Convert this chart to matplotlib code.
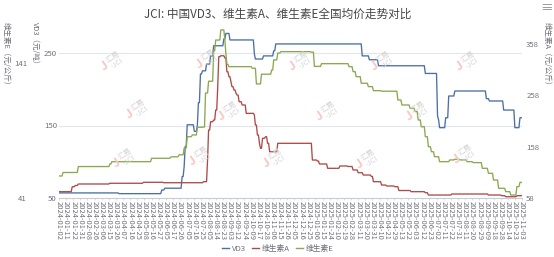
import numpy as np
import matplotlib
matplotlib.use("Agg")
import matplotlib.pyplot as plt
from matplotlib.lines import Line2D

plt.rcParams['font.family'] = ['Noto Sans CJK SC', 'DejaVu Sans']

# ---------------- data ----------------
date_labels = [
    "2024-01-02", "2024-01-11", "2024-01-22", "2024-01-31", "2024-02-08", "2024-02-26",
    "2024-03-06", "2024-03-15", "2024-03-26", "2024-04-07", "2024-04-16", "2024-04-25",
    "2024-05-08", "2024-05-16", "2024-05-27", "2024-06-05", "2024-06-17", "2024-06-26",
    "2024-07-05", "2024-07-16", "2024-07-25", "2024-08-05", "2024-08-14", "2024-08-23",
    "2024-09-03", "2024-09-12", "2024-09-24", "2024-10-09", "2024-10-17", "2024-10-28",
    "2024-11-06", "2024-11-15", "2024-11-26", "2024-12-05", "2024-12-16", "2024-12-25",
    "2025-01-06", "2025-01-15", "2025-01-24", "2025-02-10", "2025-02-19", "2025-02-28",
    "2025-03-11", "2025-03-20", "2025-03-31", "2025-04-10", "2025-04-21", "2025-04-29",
    "2025-05-13", "2025-05-22", "2025-06-03", "2025-06-12", "2025-06-23", "2025-07-02",
    "2025-07-11", "2025-07-22", "2025-07-31", "2025-08-11", "2025-08-20", "2025-08-29",
    "2025-09-09", "2025-09-18", "2025-09-28", "2025-10-14", "2025-10-23", "2025-11-03",
]
label_step = 7                      # trading days between shown labels
n_days = (len(date_labels) - 1) * label_step + 1

# price change points: trading-day index -> new price
vd3_days = [0, 59, 101, 104, 121, 123, 124, 126, 133, 136, 137, 139, 141, 145, 149, 152,
            162, 164, 168, 192, 193, 201, 211, 213, 298, 305, 314, 360, 372, 373, 374,
            380, 383, 389, 420, 423, 437, 448, 453]
vd3_vals = [57, 56, 61, 63.5, 79.6, 93.5, 121, 151, 142, 151, 181.5, 221, 225.4, 234.7, 246, 260,
            269.5, 277, 268, 248.6, 241.7, 246, 253, 262.5, 246, 240.7, 232.4, 221.8, 163, 158, 147,
            160.7, 190.7, 197.6, 187, 183.8, 171.3, 147, 160.7]

va_days = [0, 13, 16, 19, 50, 83, 103, 142, 146, 147, 149, 152, 154, 156, 157, 159, 163, 165,
           167, 169, 170, 172, 174, 175, 177, 180, 184, 192, 193, 195, 197, 198, 200, 203, 205,
           207, 215, 249, 254, 256, 264, 276, 284, 289, 294, 299, 307, 309, 317, 322, 330, 334,
           346, 360, 363, 386, 422, 435, 439, 450]
va_vals = [70.3, 80, 82.4, 85.3, 86.7, 88.6, 87.8, 89.8, 132, 190.5, 206.7, 210, 229.5, 275, 333.4,
           335.3, 331, 304, 294.4, 284.7, 275, 268.5, 262, 258.7, 245.7, 239.3, 223, 219.8, 200.3,
           180.8, 164.6, 154.9, 174.4, 177.5, 164.6, 148.2, 164.6, 132, 130, 124.3, 115.9, 120.4,
           119.4, 112.6, 107.3, 102.8, 100, 89.8, 83.3, 81.4, 80, 72.6, 70.3, 68.3, 63.8, 65.8,
           63.8, 62.5, 60.5, 62.5]

ve_days = [0, 4, 19, 50, 52, 91, 110, 118, 123, 126, 131, 136, 142, 144, 147, 152, 154, 159,
           163, 164, 165, 167, 190, 194, 199, 209, 211, 215, 218, 248, 251, 258, 285, 289, 292,
           297, 304, 309, 317, 333, 337, 345, 350, 353, 356, 360, 363, 366, 369, 374, 384, 389,
           394, 401, 407, 416, 422, 427, 432, 439, 444, 450, 453]
ve_vals = [57.3, 59.9, 64.3, 66.2, 67.9, 70.4, 71.5, 73, 78, 86.4, 87.7, 93.4, 93.6, 118.8, 127.5,
           150, 158, 165.5, 158, 148, 140, 138.3, 137.1, 125.5, 132.7, 135.8, 143.3, 148.4, 149.4,
           149, 138.5, 140.5, 138.3, 134.6, 130.9, 126, 123.5, 120.5, 120.1, 113.6, 109.9, 107.5,
           105, 98.8, 93.8, 86.4, 79, 75.3, 71.6, 67.9, 69.2, 69.7, 69.2, 67.9, 67.2, 63, 59.3,
           54.3, 48.2, 45.7, 43.2, 49.4, 52.6]

vd3_ticks = [50, 150, 250]
va_ticks = [58, 158, 258, 358]
ve_ticks = [41, 141]


def daily(days, vals, n):
    out = np.empty(n)
    for i, (d, v) in enumerate(zip(days, vals)):
        end = days[i + 1] if i + 1 < len(days) else n
        out[d:end] = v
    return out


x = np.arange(n_days)
vd3 = daily(vd3_days, vd3_vals, n_days)
va = daily(va_days, va_vals, n_days)
ve = daily(ve_days, ve_vals, n_days)

# ---------------- style ----------------
C_VD3 = '#4a6fa5'
C_A = '#ad4a48'
C_E = '#8aa84f'
GRID = '#e3e6ec'
LBL = '#6e7079'
TXT = '#464646'

W, H = 554, 257
fig = plt.figure(figsize=(W / 100, H / 100), dpi=100)
L, R, B, T = 59, 522, 198, 28
ax = fig.add_axes([L / W, (H - B) / H, (R - L) / W, (B - T) / H])
ax.set_facecolor('none')

# VD3 axis (left, main)
ax.set_xlim(0, n_days - 1)
ax.set_ylim(50, 50 + (B - T) / 0.725)
ax.set_yticks(vd3_ticks)
ax.yaxis.grid(True, color=GRID, lw=0.8)
ax.set_axisbelow(True)
for s in ['top', 'right', 'left']:
    ax.spines[s].set_visible(False)
ax.spines['bottom'].set_color('#c8ccd4')
ax.spines['bottom'].set_linewidth(0.8)
ax.tick_params(axis='y', length=0, pad=1.5, labelsize=5.6, labelcolor=LBL)
ax.set_xticks(np.arange(0, n_days, label_step))
ax.set_xticklabels(date_labels, rotation=-90, fontsize=5.4, color=LBL)
ax.tick_params(axis='x', length=1.5, width=0.5, color='#c8ccd4', pad=1)

# Vitamin A axis (right)
axA = ax.twinx()
axA.set_ylim(58, 58 + (B - T) / 0.513)
axA.set_yticks(va_ticks)
for s in axA.spines.values():
    s.set_visible(False)
axA.tick_params(axis='y', length=0, pad=3, labelsize=5.6, labelcolor=LBL)

# Vitamin E axis (outer left)
axE = ax.twinx()
axE.set_ylim(41, 41 + (B - T) / 1.35)
axE.yaxis.tick_left()
axE.yaxis.set_label_position('left')
axE.spines['left'].set_position(('outward', 30 * 72 / 100))
for s in axE.spines.values():
    s.set_visible(False)
axE.set_yticks(ve_ticks)
axE.tick_params(axis='y', length=0, pad=1.5, labelsize=5.6, labelcolor=LBL)

# watermarks
wm_pos = [(115, 60), (210, 58), (303, 60), (385, 60), (470, 60),
          (140, 108), (232, 110), (330, 110), (420, 110),
          (127, 157), (203, 155), (277, 157), (370, 158), (467, 153)]
for px, py in wm_pos:
    fig.text(px / W, 1 - py / H, '汇易\n-JCI', fontsize=5.5, color='#d4d4d4',
             rotation=35, ha='center', va='center', linespacing=0.9, zorder=0)
    fig.text((px - 10) / W, 1 - (py + 6) / H, 'J', fontsize=9, color='#f8c8c4',
             rotation=35, ha='center', va='center', fontweight='bold', zorder=0)

lw = 0.95
ax.plot(x, vd3, color=C_VD3, lw=lw, zorder=3)
axA.plot(x, va, color=C_A, lw=lw, zorder=3)
axE.plot(x, ve, color=C_E, lw=lw, zorder=3)

# title
fig.text(278 / W, 1 - 14 / H, 'JCI: 中国VD3、维生素A、维生素E全国均价走势对比',
         ha='center', va='center', fontsize=8.4, color=TXT)
# menu icon
fig.text(546 / W, 1 - 8 / H, '≡', ha='center', va='center', fontsize=9, color='#8a8a8a')

# axis names (vertical)
fig.text(35 / W, 1 - 22 / H, 'VD3（元/吨）', rotation=-90, ha='center', va='top',
         fontsize=5.4, color=LBL)
fig.text(6 / W, 1 - 22 / H, '维生素E（元/公斤）', rotation=-90, ha='center', va='top',
         fontsize=5.4, color=LBL)
fig.text(547 / W, 1 - 22 / H, '维生素A（元/公斤）', rotation=-90, ha='center', va='top',
         fontsize=5.4, color=LBL)

# legend
handles = [Line2D([], [], color=C_VD3, lw=1.0),
           Line2D([], [], color=C_A, lw=1.0),
           Line2D([], [], color=C_E, lw=1.0)]
fig.legend(handles, ['VD3', '维生素A', '维生素E'], loc='center',
           bbox_to_anchor=(278 / W, 1 - 249 / H), ncol=3, frameon=False,
           fontsize=5.6, labelcolor=LBL, handlelength=0.9, handletextpad=0.35,
           columnspacing=0.8)

fig.savefig('out.png', dpi=100)
